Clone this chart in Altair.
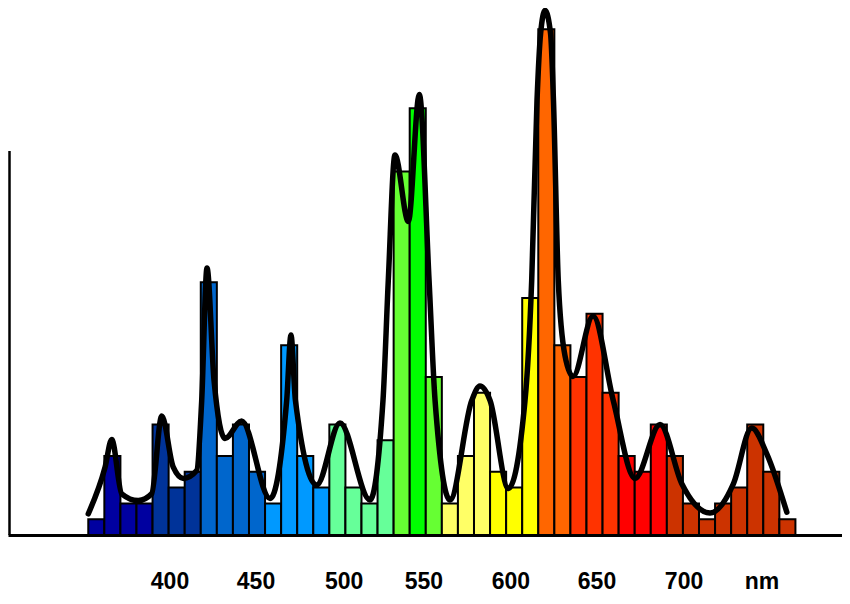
import altair as alt
import pandas as pd

# Histogram of a light spectrum (wavelength bins, counts) with a smooth envelope
bin_first = 352.3      # nm, left edge of first bin
bin_width = 9.38       # nm
counts = [1, 5, 2, 2, 7, 3, 4, 16, 5, 7, 4, 2, 12, 5, 3, 7, 3, 2, 6, 23, 27, 10,
          2, 5, 9, 4, 3, 15, 32, 12, 10, 14, 9, 5, 4, 7, 5, 2, 1, 2, 3, 7, 4, 1]
bar_colors = (["#0000a0"] * 4 + ["#003399"] * 3 + ["#0066cc"] * 4 + ["#0099ff"] * 4
              + ["#66ff99"] * 4 + ["#66ff33", "#00ff00", "#66ff33"] + ["#ffff66"] * 3
              + ["#ffff00"] * 3 + ["#ff6600"] * 2 + ["#ff3300"] * 3 + ["#ff0000"] * 3
              + ["#cc3300"] * 8)

curve_nm = [352.3, 362.1, 366.0, 371.8, 381.5, 389.3, 395.2, 401.9, 407.8, 415.6,
            418.5, 421.6, 425.7, 432.1, 441.8, 458.4, 468.1, 470.6, 473.2, 485.6,
            499.2, 516.7, 524.3, 527.4, 531.3, 539.1, 545.5, 551.2, 554.7, 563.4,
            576.1, 580.9, 586.8, 597.5, 607.2, 611.1, 614.2, 616.3, 618.9, 622.1,
            623.8, 626.6, 630.5, 635.2, 646.9, 658.7, 671.4, 686.0, 698.7, 715.2,
            728.8, 739.5, 748.3, 760.0]
curve_val = [1.34, 4.29, 6.04, 2.61, 2.18, 2.61, 7.53, 4.29, 3.58, 4.08,
             8.51, 16.9, 9.78, 6.11, 7.22, 2.31, 8.51, 12.66, 8.51, 3.16,
             7.09, 2.22, 8.51, 16.11, 24.05, 19.84, 27.88, 16.11, 8.51, 2.22,
             8.51, 9.43, 8.51, 2.94, 8.51, 16.11, 27.5, 31.74, 33.2, 31.74,
             27.5, 16.11, 11.36, 10.03, 13.86, 8.51, 3.58, 6.99, 3.24, 1.39,
             3.24, 6.77, 5.14, 1.44]

axis_top = 24.3
label_text = ["400", "450", "500", "550", "600", "650", "700", "nm"]
label_nm = [400, 450.2, 501.6, 548.2, 599.0, 649.2, 700.0, 745.5]

bars_df = pd.DataFrame({
    "start": [bin_first + i * bin_width for i in range(len(counts))],
    "end": [bin_first + (i + 1) * bin_width for i in range(len(counts))],
    "count": counts,
    "color": bar_colors,
})
curve_df = pd.DataFrame({"nm": curve_nm, "val": curve_val})
labels_df = pd.DataFrame({"nm": label_nm, "label": label_text})
yaxis_df = pd.DataFrame({"top": [axis_top]})

xscale = alt.Scale(domain=[305.45, 792.2], nice=False, zero=False)
yscale = alt.Scale(domain=[0, 33.35], nice=False, zero=True)

bars = alt.Chart(bars_df).mark_bar(stroke="black", strokeWidth=2).encode(
    x=alt.X("start:Q", scale=xscale,
            axis=alt.Axis(domain=True, domainColor="black", domainWidth=3,
                          ticks=False, labels=False, grid=False, title=None)),
    x2="end:Q",
    y=alt.Y("count:Q", scale=yscale, axis=None),
    y2=alt.datum(0),
    fill=alt.Fill("color:N", scale=None),
)

curve = alt.Chart(curve_df).mark_line(
    color="black", strokeWidth=5.5, interpolate="monotone",
    strokeCap="round", strokeJoin="round"
).encode(
    x=alt.X("nm:Q", scale=xscale),
    y=alt.Y("val:Q", scale=yscale),
)

yaxis_line = alt.Chart(yaxis_df).mark_rule(color="black", strokeWidth=2.5).encode(
    x=alt.value(1.5),
    y=alt.Y("top:Q", scale=yscale),
    y2=alt.datum(0),
)

labels = alt.Chart(labels_df).mark_text(
    fontSize=23, fontWeight="bold", font="Liberation Sans",
    baseline="alphabetic", align="center", color="black"
).encode(
    x=alt.X("nm:Q", scale=xscale),
    y=alt.value(581),
    text="label:N",
)

chart = alt.layer(bars, curve, yaxis_line, labels).properties(
    width=834, height=527,
    autosize=alt.AutoSizeParams(type="none"),
    padding={"left": 0, "top": 0, "right": 0, "bottom": 61},
    background="white",
).configure_view(stroke=None)

chart.save("out.html", embed_options={"renderer": "svg", "actions": False})
